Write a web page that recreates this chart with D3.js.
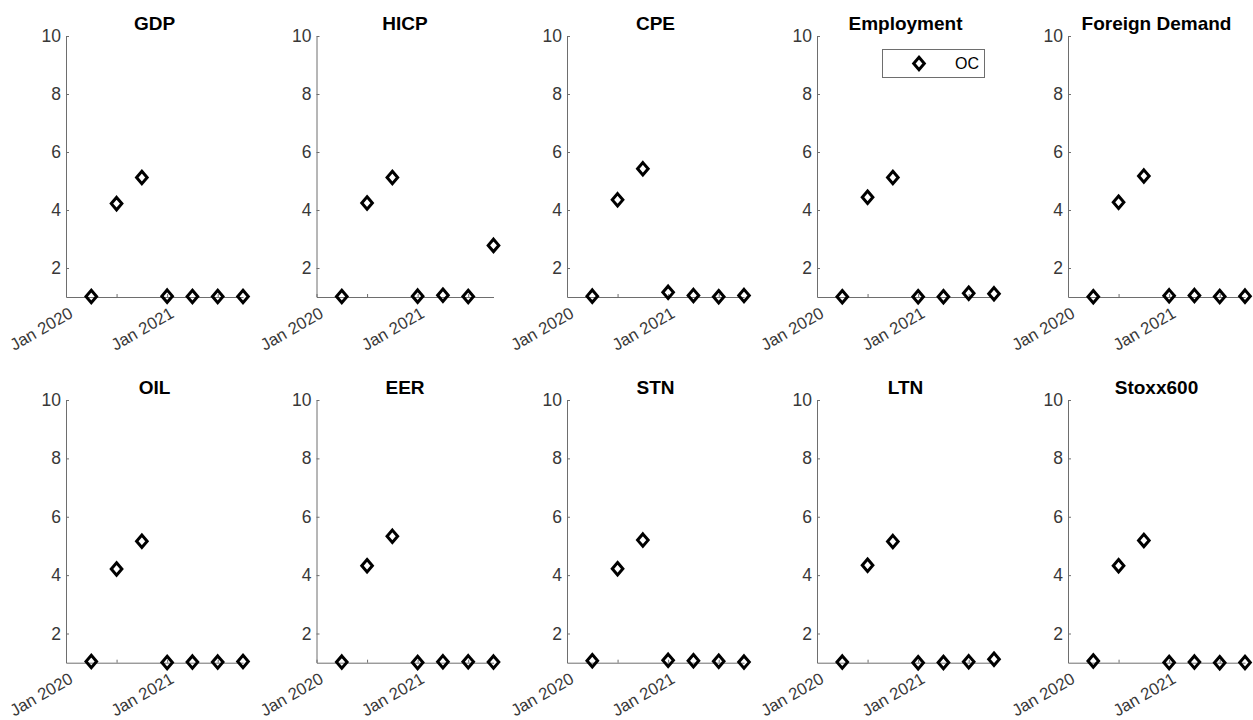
<!DOCTYPE html>
<html>
<head>
<meta charset="utf-8">
<script src="https://cdn.jsdelivr.net/npm/d3@7"></script>
<style>
  html, body { margin: 0; padding: 0; background: #ffffff; }
  svg { display: block; }
  text { font-family: "Liberation Sans", Arial, Helvetica, sans-serif; }
</style>
</head>
<body>
<svg id="chart" width="1253" height="720"></svg>
<script>
// ---------------- data ----------------
const titles = ["GDP", "HICP", "CPE", "Employment", "Foreign Demand",
                "OIL", "EER", "STN", "LTN", "Stoxx600"];
// observation slots (quarters), positioned at 1..7 on the x scale
const periods = ["Apr 2020", "Jul 2020", "Oct 2020", "Jan 2021", "Apr 2021", "Jul 2021", "Oct 2021"];
const xTickValues = [0, 2, 4, 6];
const xTickLabels = ["Jan 2020", "", "Jan 2021", ""];
const yTickValues = [2, 4, 6, 8, 10];
const seriesName = "OC";

const gdp        = [1.02, 4.22, 5.12, 1.03, 1.02, 1.02, 1.02];
const hicp       = [1.02, 4.24, 5.12, 1.03, 1.06, 1.02, 2.78];
const cpe        = [1.03, 4.35, 5.42, 1.16, 1.05, 1.01, 1.05];
const employment = [1.01, 4.44, 5.12, 1.01, 1.01, 1.13, 1.11];
const foreignDem = [1.01, 4.27, 5.17, 1.04, 1.05, 1.02, 1.03];
const oil        = [1.04, 4.21, 5.16, 1.01, 1.02, 1.02, 1.04];
const eer        = [1.02, 4.32, 5.33, 1.01, 1.03, 1.03, 1.02];
const stn        = [1.07, 4.22, 5.20, 1.08, 1.07, 1.05, 1.02];
const ltn        = [1.02, 4.34, 5.15, 1.00, 1.01, 1.03, 1.12];
const stoxx600   = [1.06, 4.32, 5.19, 1.01, 1.02, 1.00, 1.01];
const allSeries = [gdp, hicp, cpe, employment, foreignDem, oil, eer, stn, ltn, stoxx600];
const legendPanel = 3; // Employment

// ---------------- layout ----------------
const svg = d3.select("#chart");
const colLeft = [66, 316.5, 567, 817, 1068];
const plotW = 177;
const rowTop = [36, 400];
const rowBottom = [297, 662.7];
const axisColor = "#6e6e6e";
const textColor = "#383838";

// MATLAB-like square diamond marker
const diamond = {
  draw(ctx, size) {
    const hw = 5.3, hh = 6.2;
    ctx.moveTo(0, -hh);
    ctx.lineTo(hw, 0);
    ctx.lineTo(0, hh);
    ctx.lineTo(-hw, 0);
    ctx.closePath();
  }
};
const symbolGen = d3.symbol().type(diamond).size(64);

allSeries.forEach((vals, i) => {
  const r = Math.floor(i / 5), c = i % 5;
  const left = colLeft[c], top = rowTop[r], bottom = rowBottom[r];

  const x = d3.scaleLinear().domain([0, 7]).range([left, left + plotW]);
  const y = d3.scaleLinear().domain([1, 10]).range([bottom, top]);

  const g = svg.append("g");

  // y axis
  const yAxis = d3.axisLeft(y).tickValues(yTickValues).tickSizeInner(-3).tickSizeOuter(0).tickPadding(5);
  const ya = g.append("g").attr("transform", `translate(${left},0)`).call(yAxis);
  ya.select(".domain").attr("stroke", axisColor);
  ya.selectAll(".tick line").attr("stroke", axisColor);
  ya.selectAll(".tick text").attr("fill", textColor)
    .style("font-size", "17.5px").style("font-family", "'Liberation Sans', Arial, sans-serif");

  // x axis
  const xAxis = d3.axisBottom(x).tickValues(xTickValues).tickSizeInner(-3).tickSizeOuter(0).tickFormat(() => "");
  const xa = g.append("g").attr("transform", `translate(0,${bottom})`).call(xAxis);
  xa.select(".domain").attr("stroke", axisColor);
  xa.selectAll(".tick line").attr("stroke", axisColor);

  // rotated x tick labels
  g.selectAll(".xlab").data(xTickValues.map((v, k) => ({ v, t: xTickLabels[k] })).filter(d => d.t))
    .enter().append("text")
    .attr("class", "xlab")
    .attr("transform", d => `translate(${x(d.v) + 2},${bottom + 9}) rotate(-30)`)
    .attr("text-anchor", "end")
    .attr("dy", "0.72em")
    .attr("fill", textColor)
    .style("font-size", "16.8px")
    .text(d => d.t);

  // title
  g.append("text")
    .attr("x", left + plotW / 2)
    .attr("y", top - 6)
    .attr("text-anchor", "middle")
    .attr("fill", "#000")
    .style("font-size", "19px")
    .style("font-weight", "bold")
    .text(titles[i]);

  // markers
  g.selectAll(".pt").data(vals.map((v, k) => ({ k: k + 1, v, p: periods[k] })))
    .enter().append("path")
    .attr("class", "pt")
    .attr("d", symbolGen)
    .attr("transform", d => `translate(${x(d.k)},${y(d.v)})`)
    .attr("fill", "none")
    .attr("stroke", "#000")
    .attr("stroke-width", 3)
    .attr("stroke-linejoin", "miter");

  // legend
  if (i === legendPanel) {
    const lx = left + 65, ly = top + 13;
    const lg = g.append("g");
    lg.append("rect")
      .attr("x", lx + 0.5).attr("y", ly + 0.5)
      .attr("width", 102).attr("height", 28)
      .attr("fill", "#fff").attr("stroke", axisColor).attr("stroke-width", 1);
    lg.append("path")
      .attr("d", symbolGen)
      .attr("transform", `translate(${lx + 37},${ly + 14.5})`)
      .attr("fill", "none").attr("stroke", "#000").attr("stroke-width", 3);
    lg.append("text")
      .attr("x", lx + 73).attr("y", ly + 14.5).attr("dy", "0.36em")
      .attr("fill", "#000")
      .style("font-size", "16px")
      .text(seriesName);
  }
});
</script>
</body>
</html>
